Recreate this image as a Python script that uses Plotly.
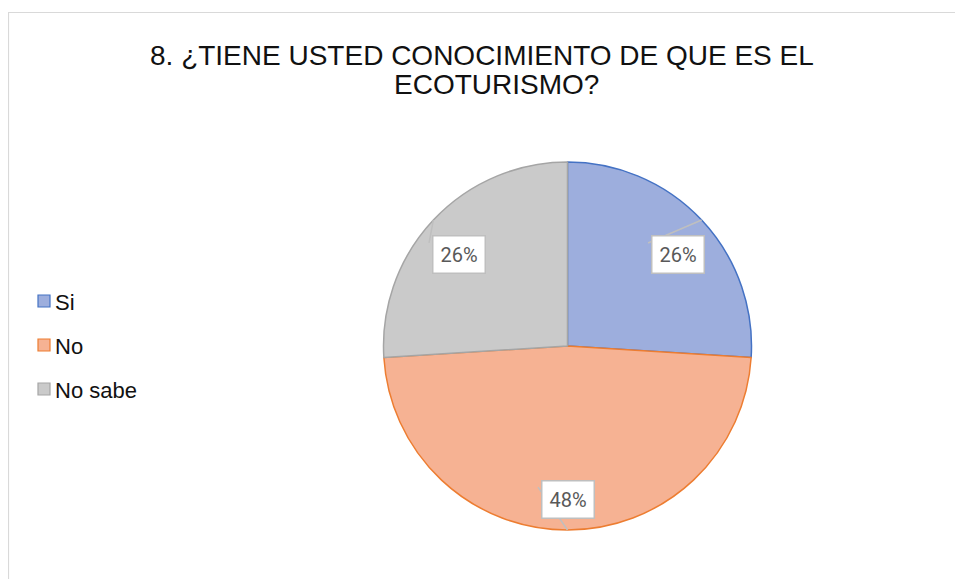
import math
import plotly.graph_objects as go

# ---- data ----
categories = ["Si", "No", "No sabe"]
values = [26, 48, 26]
pct_labels = ["26%", "48%", "26%"]
title_lines = ["8. ¿TIENE USTED CONOCIMIENTO DE QUE ES EL", "ECOTURISMO?"]

# ---- styles ----
fill_colors = ["#9DAEDD", "#F6B293", "#CACACA"]
line_colors = ["#4472C4", "#ED7D31", "#A5A5A5"]
W, H = 963, 579
OFF = 8  # page body margin
cx, cy, R = 567.5, 346.0, 184.0  # pie geometry in page pixels


def P(x, y):
    """page pixel -> paper coords"""
    return (x - OFF) / W, (H - (y - OFF)) / H


x0d, y1d = P(cx - R, cy - R)
x1d, y0d = P(cx + R, cy + R)

fig = go.Figure()
fig.add_trace(go.Pie(
    labels=categories, values=values, sort=False, direction="clockwise",
    rotation=0, textinfo="none", hoverinfo="label+percent",
    marker=dict(colors=fill_colors, line=dict(color=line_colors, width=1.5)),
    domain=dict(x=[x0d, x1d], y=[y0d, y1d]), showlegend=False,
))

shapes = []
annotations = []

# outer chart frame
fx0, fy1 = P(8.5, 12.5)
shapes.append(dict(type="rect", xref="paper", yref="paper",
                   x0=fx0, x1=1.05, y0=-0.05, y1=fy1,
                   line=dict(color="#D9D9D9", width=1.2), fillcolor="rgba(0,0,0,0)"))

# title (two lines, Excel-like tight spacing)
title_pos = [(482, 56), (497, 85)]
for t, (xx, yy) in zip(title_lines, title_pos):
    tx, ty = P(xx, yy)
    annotations.append(dict(x=tx, y=ty, xref="paper", yref="paper", text=t, showarrow=False,
                            xanchor="center", yanchor="middle",
                            font=dict(family="Liberation Sans, Arial", size=28, color="#111111")))

# data labels with leader lines, placed from the data angles
total = sum(values)
cum = 0
label_r = [0.776, 0.832, 0.772]
ang_nudge = [3.6, 0.0, -3.3]
for i, v in enumerate(values):
    mid = (cum + v / 2) / total * 360
    cum += v
    a = math.radians(mid + ang_nudge[i])
    lx, ly = cx + math.sin(a) * R * label_r[i], cy - math.cos(a) * R * label_r[i]
    am = math.radians(mid)
    ex, ey = cx + math.sin(am) * R, cy - math.cos(am) * R
    bx, by = lx - 25.5 - 4, ly - 18 + 6
    sx0, sy0 = P(ex, ey)
    sx1, sy1 = P(bx, by)
    shapes.append(dict(type="line", xref="paper", yref="paper", x0=sx0, y0=sy0, x1=sx1, y1=sy1,
                       line=dict(color="#BFBFBF", width=1.5), layer="above"))
    ax, ay = P(lx, ly)
    annotations.append(dict(
        x=ax, y=ay, xref="paper", yref="paper", text=pct_labels[i], showarrow=False,
        font=dict(family="Roboto, Liberation Sans", size=20, color="#595959"),
        bgcolor="white", bordercolor="#BFBFBF", borderwidth=1.5, borderpad=3,
        width=45, height=30, align="center", valign="middle",
        xanchor="center", yanchor="middle"))

# legend (custom, Excel-like spacing)
leg_y = [301, 345, 389]
for i, name in enumerate(categories):
    qx0, qy0 = P(38, leg_y[i] - 6)
    qx1, qy1 = P(50, leg_y[i] + 6)
    shapes.append(dict(type="rect", xref="paper", yref="paper", x0=qx0, x1=qx1, y0=qy1, y1=qy0,
                       fillcolor=fill_colors[i], line=dict(color=line_colors[i], width=1.2)))
    tx, ty = P(53, leg_y[i] + 1)
    annotations.append(dict(x=tx, y=ty, xref="paper", yref="paper", text=name, showarrow=False,
                            xanchor="left", yanchor="middle",
                            font=dict(family="Liberation Sans, Arial", size=22, color="#111111")))

fig.update_layout(
    width=W, height=H, margin=dict(l=0, r=0, t=0, b=0),
    paper_bgcolor="white", plot_bgcolor="white",
    shapes=shapes, annotations=annotations,
)
fig.write_html("out.html")
